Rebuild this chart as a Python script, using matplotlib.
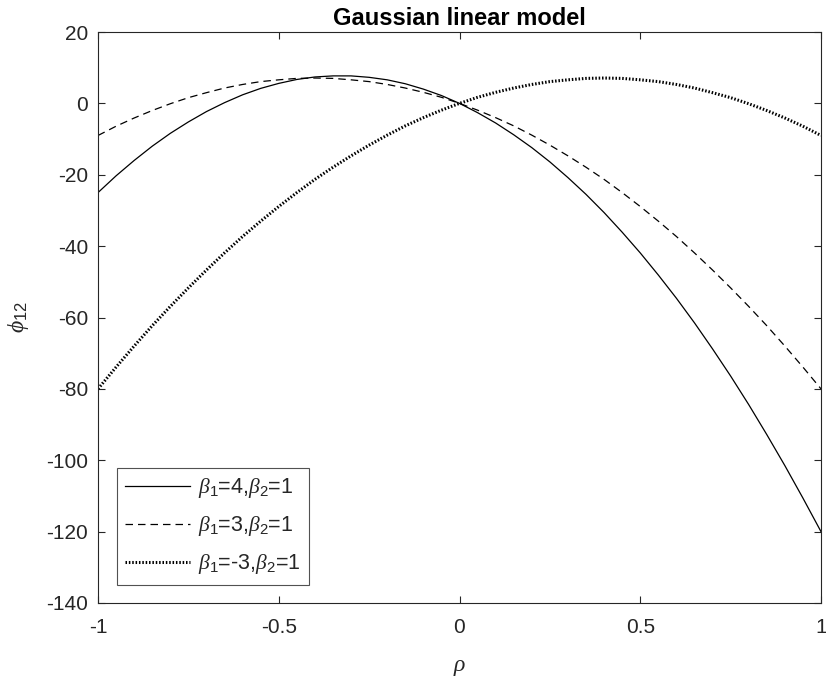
import matplotlib
matplotlib.use("Agg")
import matplotlib.pyplot as plt

rho = [-1.00, -0.95, -0.90, -0.85, -0.80, -0.75, -0.70, -0.65, -0.60, -0.55,
       -0.50, -0.45, -0.40, -0.35, -0.30, -0.25, -0.20, -0.15, -0.10, -0.05,
       0.00, 0.05, 0.10, 0.15, 0.20, 0.25, 0.30, 0.35, 0.40, 0.45,
       0.50, 0.55, 0.60, 0.65, 0.70, 0.75, 0.80, 0.85, 0.90, 0.95, 1.00]

phi_b4 = [-25.0, -20.3, -16.0, -12.0, -8.4, -5.2, -2.3, 0.2, 2.4, 4.2,
          5.6, 6.7, 7.4, 7.7, 7.7, 7.3, 6.6, 5.5, 4.0, 2.2,
          0.0, -2.6, -5.5, -8.8, -12.4, -16.4, -20.8, -25.5, -30.6, -36.1,
          -41.9, -48.1, -54.6, -61.5, -68.8, -76.4, -84.4, -92.8, -101.5, -110.6, -120.0]

phi_b3 = [-9.0, -6.4, -4.1, -2.0, -0.1, 1.6, 3.0, 4.3, 5.3, 6.1,
          6.6, 7.0, 7.1, 7.0, 6.6, 6.1, 5.3, 4.3, 3.1, 1.7,
          0.0, -1.9, -4.0, -6.3, -8.9, -11.7, -14.7, -17.9, -21.3, -25.0,
          -28.9, -33.0, -37.3, -41.9, -46.7, -51.7, -56.9, -62.3, -68.0, -73.9, -80.0]

phi_bm3 = [-80.0, -73.9, -68.0, -62.3, -56.9, -51.7, -46.7, -41.9, -37.3, -33.0,
           -28.9, -25.0, -21.3, -17.9, -14.7, -11.7, -8.9, -6.3, -4.0, -1.9,
           0.0, 1.7, 3.1, 4.3, 5.3, 6.1, 6.6, 7.0, 7.1, 7.0,
           6.6, 6.1, 5.3, 4.3, 3.0, 1.6, -0.1, -2.0, -4.1, -6.4, -9.0]

labels = [r'$\beta_{\mathsf{1}}$=4,$\beta_{\mathsf{2}}$=1',
          r'$\beta_{\mathsf{1}}$=3,$\beta_{\mathsf{2}}$=1',
          r'$\beta_{\mathsf{1}}$=-3,$\beta_{\mathsf{2}}$=1']
xticks = [-1, -0.5, 0, 0.5, 1]
xticklabels = ['-1', '-0.5', '0', '0.5', '1']
yticks = [-140, -120, -100, -80, -60, -40, -20, 0, 20]

plt.rcParams['font.family'] = ['Liberation Sans', 'DejaVu Sans']
plt.rcParams['axes.unicode_minus'] = False
plt.rcParams['mathtext.fontset'] = 'custom'
plt.rcParams['mathtext.it'] = 'Liberation Serif:italic'
plt.rcParams['mathtext.rm'] = 'Liberation Sans'
plt.rcParams['mathtext.sf'] = 'Liberation Sans'

W, H = 826, 680
L, R, T, B = 98, 821, 32, 603
fig = plt.figure(figsize=(W / 100, H / 100), dpi=100)
ax = fig.add_axes([L / W, 1 - B / H, (R - L) / W, (B - T) / H])

tc = '#262626'
ax.plot(rho, phi_b4, color='black', lw=0.9, ls='-', label=labels[0])
ax.plot(rho, phi_b3, color='black', lw=0.9, ls=(0, (6, 4)), label=labels[1])
ax.plot(rho, phi_bm3, color='black', lw=2.2, ls=(0, (0.5, 0.6)), label=labels[2])

ax.set_xlim(-1, 1)
ax.set_ylim(-140, 20)
ax.set_xticks(xticks)
ax.set_xticklabels(xticklabels)
ax.set_yticks(yticks)
ax.tick_params(direction='in', length=5, width=0.8, colors=tc, labelsize=15,
               top=True, right=True)
ax.tick_params(axis='x', pad=11)
ax.tick_params(axis='y', pad=7)
for s in ax.spines.values():
    s.set_color(tc)
    s.set_linewidth(0.8)

ax.set_title('Gaussian linear model', fontsize=17, fontweight='bold', color='black', pad=5)
ax.set_xlabel(r'$\rho$', fontsize=17, color=tc)
ax.xaxis.set_label_coords(0.5, -0.092)
ax.set_ylabel(r'$\phi_{\mathsf{12}}$', fontsize=17, color=tc)
ax.yaxis.set_label_coords(-0.092, 0.5)

leg = ax.legend(loc='lower left', bbox_to_anchor=(0.026, 0.0315), fontsize=15.5,
                frameon=True, fancybox=False, edgecolor=tc, handlelength=3.0,
                handletextpad=0.35, borderpad=0.4, labelspacing=0.65, borderaxespad=0)
leg.get_frame().set_linewidth(0.8)
for t in leg.get_texts():
    t.set_color(tc)

fig.savefig('out.png', dpi=100)
